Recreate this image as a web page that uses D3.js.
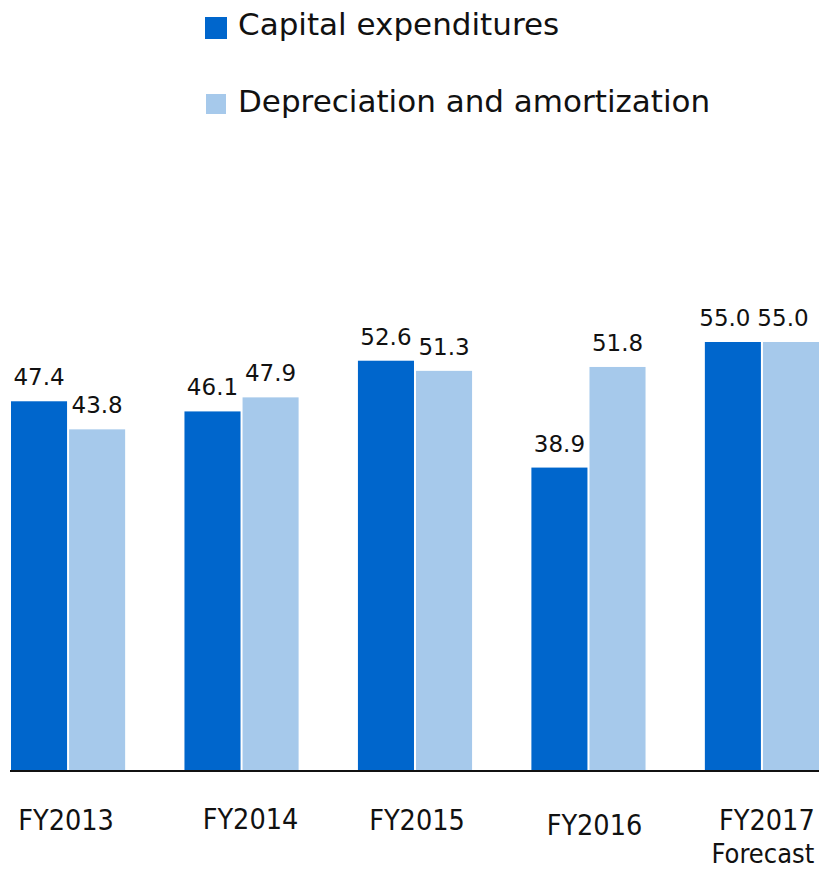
<!DOCTYPE html>
<html>
<head>
<meta charset="utf-8">
<script src="https://cdn.jsdelivr.net/npm/d3@7"></script>
<style>
  body { margin: 0; background: #fff; }
  svg { display: block; }
</style>
</head>
<body>
<svg id="chart" width="819" height="869"></svg>
<script>
// data
const years = ["FY2013", "FY2014", "FY2015", "FY2016", "FY2017"];
const yearNotes = ["", "", "", "", "Forecast"];
const series = ["Capital expenditures", "Depreciation and amortization"];
const capex = [47.4, 46.1, 52.6, 38.9, 55.0];
const depreciation = [43.8, 47.9, 51.3, 51.8, 55.0];
const colors = ["#0066cc", "#a6c9eb"];

const svg = d3.select("#chart");
const baseY = 771;

const x0 = d3.scaleBand().domain(years).range([11, 819]).paddingInner(0.342).paddingOuter(0);
const x1 = d3.scaleBand().domain(series).range([0, x0.bandwidth()]).paddingInner(0.035);
const y = d3.scaleLinear().domain([0, 55]).range([baseY, 342]);

const rows = years.map((yr, i) => ({ year: yr, values: [capex[i], depreciation[i]] }));

const groups = svg.selectAll("g.group")
  .data(rows)
  .enter().append("g")
  .attr("class", "group")
  .attr("transform", d => `translate(${x0(d.year)},0)`);

groups.selectAll("rect")
  .data(d => d.values.map((v, j) => ({ key: series[j], v, j })))
  .enter().append("rect")
  .attr("x", d => x1(d.key))
  .attr("y", d => y(d.v))
  .attr("width", x1.bandwidth())
  .attr("height", d => baseY - y(d.v))
  .attr("fill", d => colors[d.j]);

// value labels (last pair pulled in a bit, like the original)
groups.selectAll("text.val")
  .data((d, i) => d.values.map((v, j) => ({ key: series[j], v, j, last: i === years.length - 1 })))
  .enter().append("text")
  .attr("class", "val")
  .attr("x", d => x1(d.key) + x1.bandwidth() / 2 - (d.last ? 8 : 0))
  .attr("y", d => y(d.v) - 16)
  .attr("text-anchor", "middle")
  .attr("font-family", "DejaVu Sans, sans-serif")
  .attr("font-size", "23px")
  .attr("fill", "#111")
  .text(d => d.v.toFixed(1));

// baseline
svg.append("line")
  .attr("x1", 10).attr("x2", 819)
  .attr("y1", baseY).attr("y2", baseY)
  .attr("stroke", "#111")
  .attr("stroke-width", 2);

// category labels
const labelY = [830, 829, 830, 835, 830];
const labelDx = [-2, 9, 2, 6, 5];
years.forEach((yr, i) => {
  const cx = x0(yr) + x0.bandwidth() / 2 + labelDx[i];
  svg.append("text")
    .attr("x", cx)
    .attr("y", labelY[i])
    .attr("text-anchor", "middle")
    .attr("font-family", "Liberation Sans Narrow, DejaVu Sans Condensed, sans-serif")
    .attr("font-size", "28.5px")
    .attr("fill", "#111")
    .text(yr);
  if (yearNotes[i]) {
    svg.append("text")
      .attr("x", cx - 4)
      .attr("y", 863)
      .attr("text-anchor", "middle")
      .attr("font-family", "Liberation Sans Narrow, DejaVu Sans Condensed, sans-serif")
      .attr("font-size", "27px")
      .attr("fill", "#111")
      .text(yearNotes[i]);
  }
});

// legend
const legend = svg.selectAll("g.legend")
  .data(series)
  .enter().append("g")
  .attr("class", "legend")
  .attr("transform", (d, i) => `translate(205,${17 + i * 77})`);

legend.append("rect")
  .attr("x", (d, i) => i)
  .attr("width", (d, i) => 22 - i * 2)
  .attr("height", (d, i) => 22 - i * 2)
  .attr("fill", (d, i) => colors[i]);

legend.append("text")
  .attr("x", 33)
  .attr("y", 18)
  .attr("font-family", "DejaVu Sans, sans-serif")
  .attr("font-size", "31px")
  .attr("fill", "#111")
  .text(d => d);
</script>
</body>
</html>
